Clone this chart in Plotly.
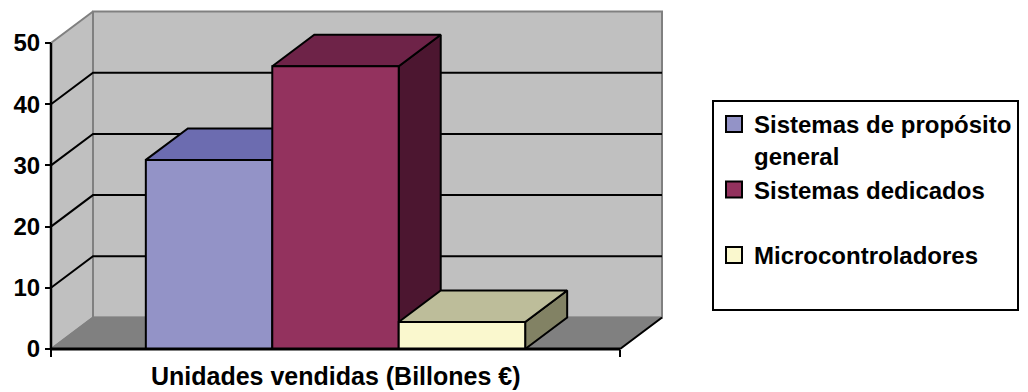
import plotly.graph_objects as go

# ---------------- data ----------------
categories = ["Unidades vendidas (Billones €)"]
series_names = ["Sistemas de propósito<br>general", "Sistemas dedicados<br> ", "Microcontroladores<br> "]
values = [30.9, 46.2, 4.4]
y_ticks = [0, 10, 20, 30, 40, 50]

# ---------------- styles ----------------
front_colors = ["#9393C7", "#93325E", "#FAF8CE"]
top_colors = ["#6C6CB0", "#6E2348", "#BDBD9A"]
side_colors = ["#4E4E86", "#4C1630", "#828264"]
WALL = "#C0C0C0"
FLOOR = "#808080"
EDGE = "#808080"
FONT = "Liberation Sans, Arial, sans-serif"

W, H = 1028, 392
# pixel layout of the front plane (used only to set axis ranges)
AX_LEFT_PX, AX_RIGHT_PX = 51, 620
ZERO_PX, TOP_PX = 349, 43
Y_MAX = y_ticks[-1]
px_per_x = AX_RIGHT_PX - AX_LEFT_PX
px_per_v = (ZERO_PX - TOP_PX) / Y_MAX
DEPTH_PX = (42, 31.5)
DX = DEPTH_PX[0] / px_per_x
DY = DEPTH_PX[1] / px_per_v
GAP_WIDTH = 1.5  # Excel gap width 150%

x_range = [-AX_LEFT_PX / px_per_x, (W - AX_LEFT_PX) / px_per_x]
y_range = [-(H - ZERO_PX) / px_per_v, ZERO_PX / px_per_v]


def P(x, v, d):
    return x + d * DX, v + d * DY


def poly(points, fill, line_color="black", width=2):
    xs = [p[0] for p in points] + [points[0][0]]
    ys = [p[1] for p in points] + [points[0][1]]
    return go.Scatter(x=xs, y=ys, mode="lines", fill="toself", fillcolor=fill,
                      line=dict(color=line_color, width=width), hoverinfo="skip",
                      showlegend=False)


def path(points, color="black", width=2):
    return go.Scatter(x=[p[0] for p in points], y=[p[1] for p in points], mode="lines",
                      line=dict(color=color, width=width), hoverinfo="skip", showlegend=False)


fig = go.Figure()

# walls and floor
fig.add_trace(poly([P(0, 0, 1), P(1, 0, 1), P(1, Y_MAX, 1), P(0, Y_MAX, 1)], WALL, EDGE, 2))
fig.add_trace(poly([P(0, 0, 0), P(0, 0, 1), P(0, Y_MAX, 1), P(0, Y_MAX, 0)], WALL, EDGE, 2))
fig.add_trace(poly([P(0, 0, 0), P(1, 0, 0), P(1, 0, 1), P(0, 0, 1)], FLOOR, EDGE, 1.5))
fig.add_trace(path([P(1, 0, 0), P(1, 0, 1)], "black", 2))

# gridlines on the walls
for v in y_ticks[1:-1]:
    fig.add_trace(path([P(0, v, 0), P(0, v, 1), P(1, v, 1)], "black", 2))

# bars
n = len(values)
bw = 1.0 / (n + GAP_WIDTH)
left = GAP_WIDTH / 2 * bw
for i, v in enumerate(values):
    x0 = left + i * bw
    x1 = x0 + bw
    fig.add_trace(poly([P(x1, 0, 0), P(x1, 0, 1), P(x1, v, 1), P(x1, v, 0)], side_colors[i]))
    fig.add_trace(poly([P(x0, v, 0), P(x1, v, 0), P(x1, v, 1), P(x0, v, 1)], top_colors[i]))
    fig.add_trace(poly([P(x0, 0, 0), P(x1, 0, 0), P(x1, v, 0), P(x0, v, 0)], front_colors[i]))

# axis lines
fig.add_trace(path([P(0, 0, 0), P(0, Y_MAX, 0)], "black", 2.5))
fig.add_trace(path([P(0, 0, 0), P(1, 0, 0)], "black", 3))

# legend entries
for i, name in enumerate(series_names):
    fig.add_trace(go.Scatter(x=[None], y=[None], mode="markers", name=name,
                             marker=dict(symbol="square", size=16, color=front_colors[i],
                                         line=dict(color="black", width=2)),
                             showlegend=True, hoverinfo="skip"))

# category title
fig.add_annotation(x=0.5, y=-27 / px_per_v, xref="x", yref="y", text=categories[0],
                   showarrow=False, xanchor="center", yanchor="middle",
                   font=dict(family=FONT, size=25, color="black", weight="bold"))

fig.update_layout(
    width=W, height=H, margin=dict(l=0, r=0, t=0, b=0),
    paper_bgcolor="white", plot_bgcolor="white",
    xaxis=dict(range=x_range, showgrid=False, zeroline=False, showline=False,
               tickvals=[0, 1], ticks="outside", ticklen=7, tickwidth=2, tickcolor="black",
               showticklabels=False, anchor="free", position=(H - ZERO_PX) / H,
               fixedrange=True),
    yaxis=dict(range=y_range, showgrid=False, zeroline=False, showline=False,
               tickvals=y_ticks, ticks="outside", ticklen=6, tickwidth=2, tickcolor="black",
               tickfont=dict(family=FONT, size=24, color="black", weight="bold"),
               anchor="free", position=AX_LEFT_PX / W, fixedrange=True),
    legend=dict(x=712 / W, y=1 - 100 / H, xanchor="left", yanchor="top",
                bgcolor="white", bordercolor="black", borderwidth=2,
                font=dict(family=FONT, size=24, color="black", weight="bold"),
                valign="top", itemclick=False, itemdoubleclick=False),
    showlegend=True,
)

fig.write_html("out.html", config={"displayModeBar": False},
               post_script="document.body.style.margin='0';document.body.style.overflow='hidden';")
